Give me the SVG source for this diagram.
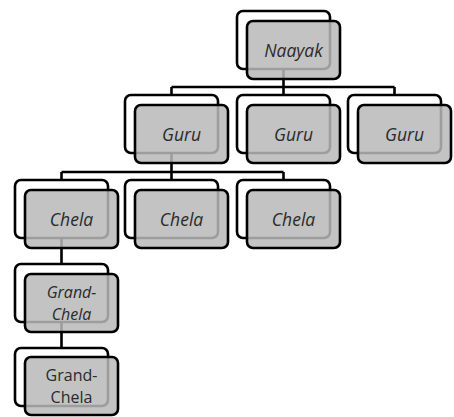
<svg xmlns="http://www.w3.org/2000/svg" width="454" height="417" viewBox="0 0 454 417">
<style>
.back{fill:#ffffff;stroke:#000;stroke-width:2.6}
.front{fill:#b9b9b9;fill-opacity:0.85;stroke:#000;stroke-width:2.6}
.lbl{font-family:"Open Sans","DejaVu Sans",sans-serif;font-size:17.5px;font-style:italic;fill:#2a2a2a;text-anchor:middle;dominant-baseline:central}
.two{font-size:16px}
.up{font-style:normal}
.conn{stroke:#000;stroke-width:2.6;fill:none}
</style>
<g id="connectors">
<path class="conn" d="M283.5,69V87M171.5,87H394.5M171.5,87V95M283.5,87V95M394.5,87V95"/>
<path class="conn" d="M171.5,153V172M61.5,172H283.5M61.5,172V180M171.5,172V180M283.5,172V180"/>
<path class="conn" d="M61.5,238V264M61.5,322V348"/>
</g>
<g id="naayak">
<rect class="back" x="237" y="11" width="93" height="58" rx="6"/>
<rect class="front" x="247" y="21" width="93" height="58" rx="6"/>
<text class="lbl" x="293.5" y="50">Naayak</text>
</g>
<g id="guru1">
<rect class="back" x="125" y="95" width="93" height="58" rx="6"/>
<rect class="front" x="135" y="105" width="93" height="58" rx="6"/>
<text class="lbl" x="181.5" y="134">Guru</text>
</g>
<g id="guru2">
<rect class="back" x="237" y="95" width="93" height="58" rx="6"/>
<rect class="front" x="247" y="105" width="93" height="58" rx="6"/>
<text class="lbl" x="293.5" y="134">Guru</text>
</g>
<g id="guru3">
<rect class="back" x="348" y="95" width="93" height="58" rx="6"/>
<rect class="front" x="358" y="105" width="93" height="58" rx="6"/>
<text class="lbl" x="404.5" y="134">Guru</text>
</g>
<g id="chela1">
<rect class="back" x="15" y="180" width="93" height="58" rx="6"/>
<rect class="front" x="25" y="190" width="93" height="58" rx="6"/>
<text class="lbl" x="71.5" y="219">Chela</text>
</g>
<g id="chela2">
<rect class="back" x="125" y="180" width="93" height="58" rx="6"/>
<rect class="front" x="135" y="190" width="93" height="58" rx="6"/>
<text class="lbl" x="181.5" y="219">Chela</text>
</g>
<g id="chela3">
<rect class="back" x="237" y="180" width="93" height="58" rx="6"/>
<rect class="front" x="247" y="190" width="93" height="58" rx="6"/>
<text class="lbl" x="293.5" y="219">Chela</text>
</g>
<g id="grandchela1">
<rect class="back" x="15" y="264" width="93" height="58" rx="6"/>
<rect class="front" x="25" y="274" width="93" height="58" rx="6"/>
<text class="lbl two" x="71.5" y="292">Grand-</text>
<text class="lbl two" x="71.5" y="314">Chela</text>
</g>
<g id="grandchela2">
<rect class="back" x="15" y="348" width="93" height="58" rx="6"/>
<rect class="front" x="25" y="357" width="93" height="58" rx="6"/>
<text class="lbl two up" x="71.5" y="375">Grand-</text>
<text class="lbl two up" x="71.5" y="397">Chela</text>
</g>
</svg>
